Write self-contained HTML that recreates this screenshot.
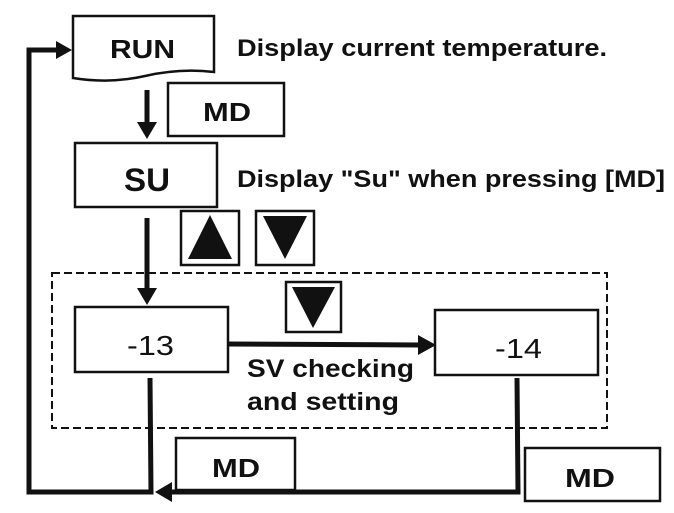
<!DOCTYPE html>
<html><head><style>
body{margin:0;background:#fff;width:674px;height:513px;overflow:hidden}
svg{display:block}
text{font-family:"Liberation Sans",sans-serif;font-weight:bold;fill:#111}
</style></head><body>
<svg width="674" height="513" viewBox="0 0 674 513">
<g fill="none" stroke="#111" stroke-width="2.5">
<path d="M73,16 H214 V72 Q180,68 145,76 Q110,84 73,78 Z"/>
<rect x="168" y="83" width="116" height="53"/>
<rect x="75" y="143" width="142" height="64"/>
<rect x="181" y="211" width="58" height="54"/>
<rect x="256" y="211" width="58" height="54"/>
<rect x="52" y="273" width="555" height="155" stroke-dasharray="8,4" stroke-width="2"/>
<rect x="286" y="282" width="55" height="50"/>
<rect x="75" y="307" width="153" height="65"/>
<rect x="435" y="310" width="163" height="65"/>
<rect x="176" y="438" width="119" height="52"/>
<rect x="525" y="448" width="135" height="53"/>
</g>
<g fill="none" stroke="#111" stroke-width="5">
<path d="M147,90 V125" />
<path d="M147,218 V290"/>
<path d="M228,344 L420,345"/>
<path d="M150,378 L151,492 H29 V50 H58"/>
<path d="M517,378 L518,492 H170"/>
</g>
<g fill="#111">
<path d="M137,122 L157,122 L147,139z"/>
<path d="M137,288 L157,288 L147,305z"/>
<path d="M418,335 L436,345 L418,355z"/>
<path d="M56,41 L72,50 L56,59z"/>
<path d="M172,482 L155,492 L172,502z"/>
<path d="M210,215 L232,259 L188,259z"/>
<path d="M263,216 L307,216 L285,259z"/>
<path d="M292,287 L335,287 L313,328z"/>
</g>
<text x="110" y="58" font-size="26" textLength="65" lengthAdjust="spacingAndGlyphs">RUN</text>
<text x="203" y="121" font-size="26" textLength="48" lengthAdjust="spacingAndGlyphs">MD</text>
<text x="124" y="191" font-size="32" textLength="46" lengthAdjust="spacingAndGlyphs">SU</text>
<text x="237" y="56" font-size="24" textLength="370" lengthAdjust="spacingAndGlyphs">Display current temperature.</text>
<text x="237" y="187" font-size="24" textLength="428" lengthAdjust="spacingAndGlyphs">Display "Su" when pressing [MD]</text>
<text x="127" y="355" font-size="28" style="font-weight:normal" textLength="47" lengthAdjust="spacingAndGlyphs">-13</text>
<text x="495" y="358" font-size="28" style="font-weight:normal" textLength="47" lengthAdjust="spacingAndGlyphs">-14</text>
<text x="247" y="377" font-size="25" textLength="167" lengthAdjust="spacingAndGlyphs">SV checking</text>
<text x="247" y="410" font-size="25" textLength="152" lengthAdjust="spacingAndGlyphs">and setting</text>
<text x="212" y="477" font-size="26" textLength="48" lengthAdjust="spacingAndGlyphs">MD</text>
<text x="565" y="487" font-size="26" textLength="50" lengthAdjust="spacingAndGlyphs">MD</text>
</svg>
</body></html>
